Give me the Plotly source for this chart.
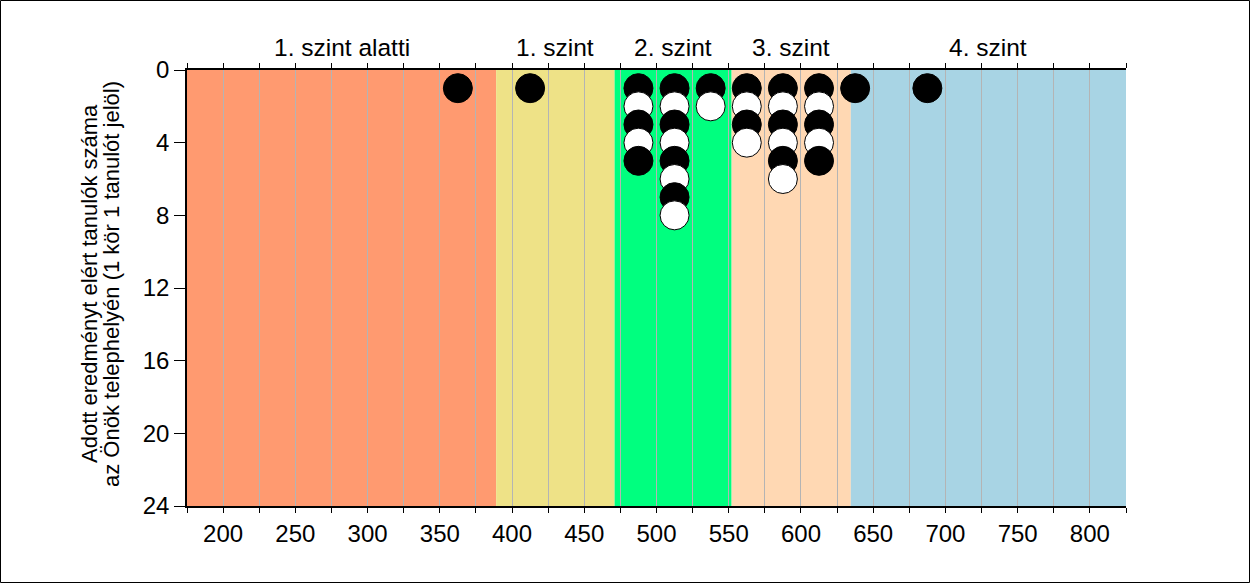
import plotly.graph_objects as go

# ---- data ----
band_names = ["1. szint alatti", "1. szint", "2. szint", "3. szint", "4. szint"]
band_edges = [175, 389, 471, 552, 634.5, 825]
band_colors = ["#FF9A70", "#EEE287", "#00FF7F", "#FFD8B3", "#A8D4E4"]

bin_centers = [362.5, 412.5, 487.5, 512.5, 537.5, 562.5, 587.5, 612.5, 637.5, 687.5]
counts = [1, 1, 5, 8, 2, 4, 6, 5, 1, 1]

x_ticks = list(range(175, 826, 25))
x_labels = [str(v) if v % 50 == 0 else "" for v in x_ticks]
y_ticks = [0, 4, 8, 12, 16, 20, 24]
y_title_lines = ["Adott eredményt elért tanulók száma",
                 "az Önök telephelyén (1 kör 1 tanulót jelöl)"]

FONT = "Liberation Sans, Arial, sans-serif"

xs, ys, fills = [], [], []
for c, n in zip(bin_centers, counts):
    for k in range(1, n + 1):
        xs.append(c)
        ys.append(k)
        fills.append("black" if k % 2 == 1 else "white")

fig = go.Figure()
fig.add_trace(go.Scatter(
    x=xs, y=ys, mode="markers",
    marker=dict(size=29, color=fills, line=dict(color="black", width=1)),
    hoverinfo="skip", showlegend=False, cliponaxis=False,
))

shapes = []
for i in range(len(band_names)):
    shapes.append(dict(type="rect", xref="x", yref="paper",
                       x0=band_edges[i], x1=band_edges[i + 1], y0=0, y1=1,
                       fillcolor=band_colors[i], line=dict(width=0), layer="below"))

L, R, T, B = 187, 124, 70, 77
W, H = 1250 - L - R, 583 - T - B
shapes.append(dict(type="rect", xref="paper", yref="paper",
                   x0=-(L - 0.5) / W, x1=1 + (R - 0.5) / W,
                   y0=-(B - 0.5) / H, y1=1 + (T - 0.5) / H,
                   line=dict(color="black", width=1), fillcolor="rgba(0,0,0,0)"))

annotations = []
for i, name in enumerate(band_names):
    annotations.append(dict(text=name, xref="x", yref="paper",
                            x=(band_edges[i] + band_edges[i + 1]) / 2,
                            y=1 + (70 - 47) / H, yanchor="middle", xanchor="center",
                            showarrow=False, font=dict(family=FONT, size=24.5, color="black")))
for line_text, px in zip(y_title_lines, [89, 111]):
    annotations.append(dict(
        text=line_text, xref="paper", yref="paper", x=(px - L) / W,
        y=(506 - 284) / H, xanchor="center", yanchor="middle",
        textangle=-90, showarrow=False, font=dict(family=FONT, size=22, color="black")))

fig.update_layout(
    width=1250, height=583,
    margin=dict(l=L, r=R, t=T, b=B),
    paper_bgcolor="white", plot_bgcolor="rgba(0,0,0,0)",
    font=dict(family=FONT, size=22, color="black"),
    shapes=shapes, annotations=annotations,
    xaxis=dict(range=[175, 825], tickvals=x_ticks, ticktext=x_labels,
               showgrid=True, gridcolor="#B4B4B4", gridwidth=1,
               showline=True, linecolor="black", linewidth=1.5, mirror="ticks",
               ticks="outside", ticklen=5, tickcolor="black", zeroline=False,
               tickfont=dict(family=FONT, size=24)),
    yaxis=dict(range=[24, 0], tickvals=y_ticks, showgrid=False,
               showline=True, linecolor="black", linewidth=1.5,
               ticks="outside", ticklen=11, tickcolor="black", zeroline=False,
               tickfont=dict(family=FONT, size=24)),
)

fig.write_html("out.html")
